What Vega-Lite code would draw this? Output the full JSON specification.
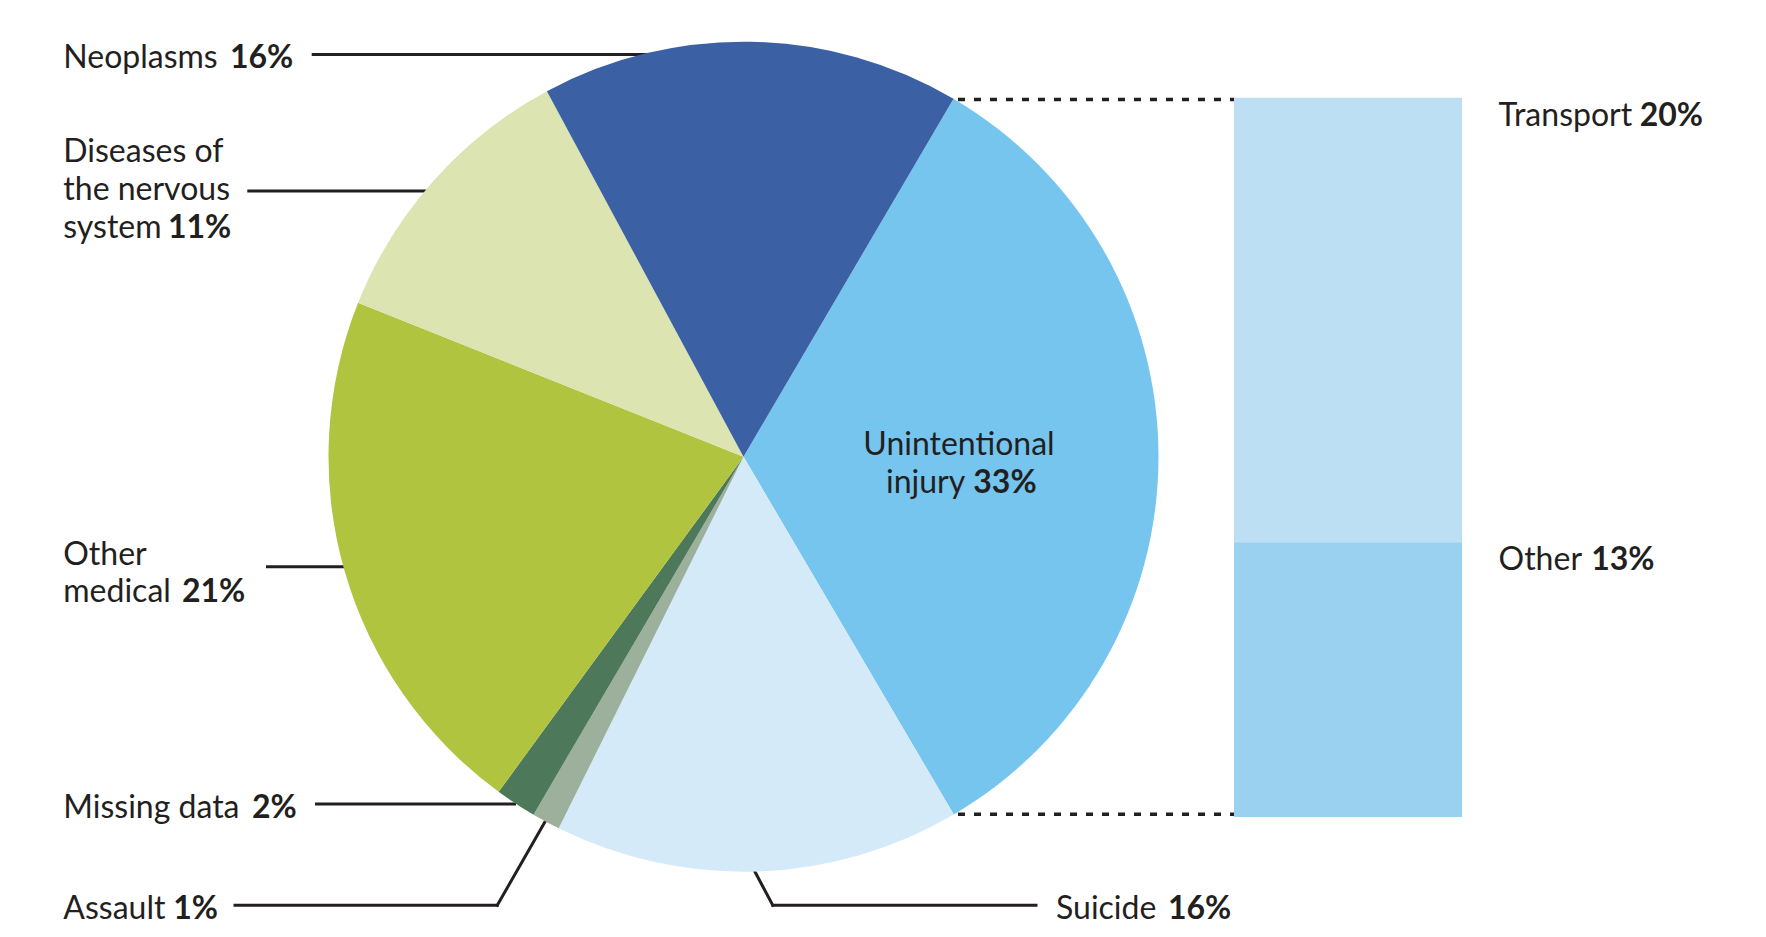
{
  "$schema": "https://vega.github.io/schema/vega-lite/v6.json",
  "width": 1766,
  "height": 937,
  "padding": 0,
  "autosize": {"type": "fit", "contains": "padding"},
  "config": {
    "view": {"stroke": null},
    "axis": {"disable": true},
    "text": {"font": "Lato", "fontSize": 32, "color": "#231f20", "baseline": "alphabetic", "align": "left"},
    "rule": {"color": "#231f20", "strokeWidth": 3}
  },
  "resolve": {"scale": {"y": "independent", "color": "independent"}},
  "layer": [
    {
      "layer": [
        {"data": {"values": [{}]}, "mark": {"type": "rule"}, "encoding": {"x": {"datum": 311.7, "type": "quantitative", "scale": {"domain": [0, 1766], "nice": false, "zero": false}, "axis": null}, "x2": {"datum": 650}, "y": {"datum": 54.5, "type": "quantitative", "scale": {"domain": [0, 937], "nice": false, "zero": false, "reverse": true}, "axis": null}}},
        {"data": {"values": [{}]}, "mark": {"type": "rule"}, "encoding": {"x": {"datum": 247.3, "type": "quantitative"}, "x2": {"datum": 430}, "y": {"datum": 191, "type": "quantitative"}}},
        {"data": {"values": [{}]}, "mark": {"type": "rule"}, "encoding": {"x": {"datum": 266, "type": "quantitative"}, "x2": {"datum": 348}, "y": {"datum": 566.7, "type": "quantitative"}}},
        {"data": {"values": [{}]}, "mark": {"type": "rule"}, "encoding": {"x": {"datum": 315, "type": "quantitative"}, "x2": {"datum": 516}, "y": {"datum": 804, "type": "quantitative"}}},
        {"data": {"values": [{}]}, "mark": {"type": "rule", "strokeCap": "square"}, "encoding": {"x": {"datum": 235, "type": "quantitative"}, "x2": {"datum": 497.3}, "y": {"datum": 905.3, "type": "quantitative"}}},
        {"data": {"values": [{}]}, "mark": {"type": "rule", "strokeCap": "square"}, "encoding": {"x": {"datum": 497.3, "type": "quantitative"}, "x2": {"datum": 546}, "y": {"datum": 905.3, "type": "quantitative"}, "y2": {"datum": 820}}},
        {"data": {"values": [{}]}, "mark": {"type": "rule", "strokeCap": "square"}, "encoding": {"x": {"datum": 753, "type": "quantitative"}, "x2": {"datum": 772.8}, "y": {"datum": 868, "type": "quantitative"}, "y2": {"datum": 905.3}}},
        {"data": {"values": [{}]}, "mark": {"type": "rule", "strokeCap": "square"}, "encoding": {"x": {"datum": 772.8, "type": "quantitative"}, "x2": {"datum": 1036}, "y": {"datum": 905.3, "type": "quantitative"}}},
        {"data": {"values": [{}]}, "mark": {"type": "rule", "strokeDash": [7, 9], "strokeWidth": 3.5}, "encoding": {"x": {"datum": 958, "type": "quantitative"}, "x2": {"datum": 1234}, "y": {"datum": 99.5, "type": "quantitative"}}},
        {"data": {"values": [{}]}, "mark": {"type": "rule", "strokeDash": [7, 9], "strokeWidth": 3.5}, "encoding": {"x": {"datum": 958, "type": "quantitative"}, "x2": {"datum": 1234}, "y": {"datum": 814.3, "type": "quantitative"}}},
        {
          "data": {"values": [
            {"cause": "Unintentional injury", "share": 33.1, "rank": 1},
            {"cause": "Suicide", "share": 15.8, "rank": 2},
            {"cause": "Assault", "share": 1.1, "rank": 3},
            {"cause": "Missing data", "share": 1.6, "rank": 4},
            {"cause": "Other medical", "share": 21.0, "rank": 5},
            {"cause": "Diseases of the nervous system", "share": 11.1, "rank": 6},
            {"cause": "Neoplasms", "share": 16.3, "rank": 7}
          ]},
          "mark": {"type": "arc", "radius": 415},
          "encoding": {
            "x": {"datum": 743.5, "type": "quantitative"},
            "y": {"datum": 456.7, "type": "quantitative"},
            "theta": {"field": "share", "type": "quantitative", "stack": true, "scale": {"domain": [0, 100], "range": [0.5306, 6.8138]}},
            "order": {"field": "rank", "type": "quantitative"},
            "color": {"field": "cause", "type": "nominal", "legend": null, "scale": {"domain": ["Unintentional injury", "Suicide", "Assault", "Missing data", "Other medical", "Diseases of the nervous system", "Neoplasms"], "range": ["#75c5ee", "#d5eaf8", "#9cb09c", "#4d795a", "#b0c440", "#dce5b1", "#3c60a4"]}}
          }
        },
        {"data": {"values": [{}]}, "mark": {"type": "text"}, "encoding": {"x": {"datum": 63.3, "type": "quantitative"}, "y": {"datum": 68.3, "type": "quantitative"}, "text": {"value": "Neoplasms"}}},
        {"data": {"values": [{}]}, "mark": {"type": "text", "fontWeight": "bold"}, "encoding": {"x": {"datum": 230, "type": "quantitative"}, "y": {"datum": 68.3, "type": "quantitative"}, "text": {"value": "16%"}}},
        {"data": {"values": [{}]}, "mark": {"type": "text", "lineHeight": 38.3}, "encoding": {"x": {"datum": 63.3, "type": "quantitative"}, "y": {"datum": 161.7, "type": "quantitative"}, "text": {"value": ["Diseases of", "the nervous", "system"]}}},
        {"data": {"values": [{}]}, "mark": {"type": "text", "fontWeight": "bold"}, "encoding": {"x": {"datum": 168, "type": "quantitative"}, "y": {"datum": 238.3, "type": "quantitative"}, "text": {"value": "11%"}}},
        {"data": {"values": [{}]}, "mark": {"type": "text", "lineHeight": 36.7}, "encoding": {"x": {"datum": 63.3, "type": "quantitative"}, "y": {"datum": 565, "type": "quantitative"}, "text": {"value": ["Other", "medical"]}}},
        {"data": {"values": [{}]}, "mark": {"type": "text", "fontWeight": "bold"}, "encoding": {"x": {"datum": 182, "type": "quantitative"}, "y": {"datum": 601.7, "type": "quantitative"}, "text": {"value": "21%"}}},
        {"data": {"values": [{}]}, "mark": {"type": "text"}, "encoding": {"x": {"datum": 63.3, "type": "quantitative"}, "y": {"datum": 818, "type": "quantitative"}, "text": {"value": "Missing data"}}},
        {"data": {"values": [{}]}, "mark": {"type": "text", "fontWeight": "bold"}, "encoding": {"x": {"datum": 252, "type": "quantitative"}, "y": {"datum": 818, "type": "quantitative"}, "text": {"value": "2%"}}},
        {"data": {"values": [{}]}, "mark": {"type": "text"}, "encoding": {"x": {"datum": 63.3, "type": "quantitative"}, "y": {"datum": 918.7, "type": "quantitative"}, "text": {"value": "Assault"}}},
        {"data": {"values": [{}]}, "mark": {"type": "text", "fontWeight": "bold"}, "encoding": {"x": {"datum": 173.3, "type": "quantitative"}, "y": {"datum": 918.7, "type": "quantitative"}, "text": {"value": "1%"}}},
        {"data": {"values": [{}]}, "mark": {"type": "text"}, "encoding": {"x": {"datum": 1056, "type": "quantitative"}, "y": {"datum": 918.7, "type": "quantitative"}, "text": {"value": "Suicide"}}},
        {"data": {"values": [{}]}, "mark": {"type": "text", "fontWeight": "bold"}, "encoding": {"x": {"datum": 1168, "type": "quantitative"}, "y": {"datum": 918.7, "type": "quantitative"}, "text": {"value": "16%"}}},
        {"data": {"values": [{}]}, "mark": {"type": "text", "align": "center"}, "encoding": {"x": {"datum": 959, "type": "quantitative"}, "y": {"datum": 455, "type": "quantitative"}, "text": {"value": "Unintentional"}}},
        {"data": {"values": [{}]}, "mark": {"type": "text"}, "encoding": {"x": {"datum": 886, "type": "quantitative"}, "y": {"datum": 493.3, "type": "quantitative"}, "text": {"value": "injury"}}},
        {"data": {"values": [{}]}, "mark": {"type": "text", "fontWeight": "bold"}, "encoding": {"x": {"datum": 973.3, "type": "quantitative"}, "y": {"datum": 493.3, "type": "quantitative"}, "text": {"value": "33%"}}},
        {"data": {"values": [{}]}, "mark": {"type": "text"}, "encoding": {"x": {"datum": 1498.6, "type": "quantitative"}, "y": {"datum": 125.7, "type": "quantitative"}, "text": {"value": "Transport"}}},
        {"data": {"values": [{}]}, "mark": {"type": "text", "fontWeight": "bold"}, "encoding": {"x": {"datum": 1639.7, "type": "quantitative"}, "y": {"datum": 125.7, "type": "quantitative"}, "text": {"value": "20%"}}},
        {"data": {"values": [{}]}, "mark": {"type": "text"}, "encoding": {"x": {"datum": 1498.6, "type": "quantitative"}, "y": {"datum": 570.4, "type": "quantitative"}, "text": {"value": "Other"}}},
        {"data": {"values": [{}]}, "mark": {"type": "text", "fontWeight": "bold"}, "encoding": {"x": {"datum": 1591.2, "type": "quantitative"}, "y": {"datum": 570.4, "type": "quantitative"}, "text": {"value": "13%"}}}
      ]
    },
    {
      "data": {"values": [
        {"mode": "Transport", "share": 20.4, "rank": 2},
        {"mode": "Other", "share": 12.6, "rank": 1}
      ]},
      "transform": [
        {"stack": "share", "groupby": [], "sort": [{"field": "rank", "order": "ascending"}], "as": ["start", "end"]}
      ],
      "mark": {"type": "bar"},
      "encoding": {
        "x": {"datum": 1234, "type": "quantitative", "scale": {"domain": [0, 1766], "nice": false, "zero": false}, "axis": null},
        "x2": {"datum": 1462},
        "y": {"field": "end", "type": "quantitative", "axis": null, "scale": {"domain": [0, 33], "range": [817, 97.7], "nice": false, "zero": true}},
        "y2": {"field": "start"},
        "color": {"field": "mode", "type": "nominal", "legend": null, "scale": {"domain": ["Transport", "Other"], "range": ["#bcdff4", "#9ad0f0"]}}
      }
    }
  ]
}
